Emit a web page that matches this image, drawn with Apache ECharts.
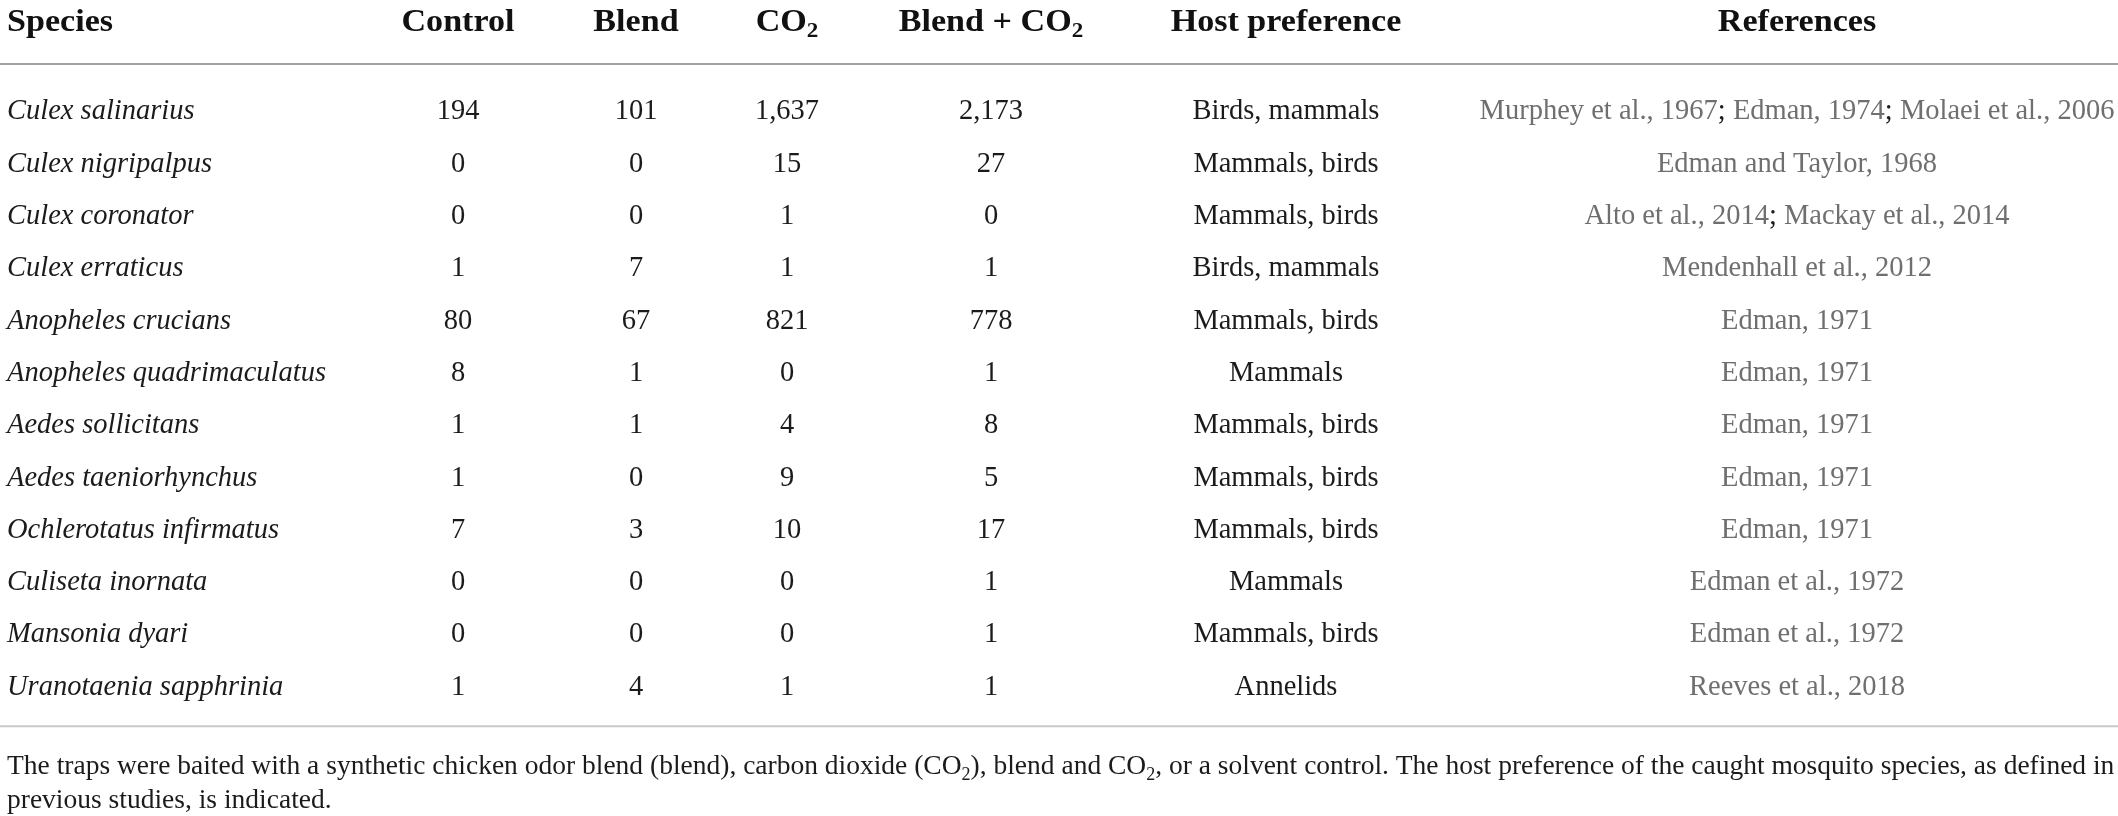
<!DOCTYPE html>
<html>
<head>
<meta charset="utf-8">
<title>Mosquito species caught per trap bait</title>
<script src="https://cdn.jsdelivr.net/npm/echarts@6.0.0/dist/echarts.min.js"></script>
<style>
  html, body { margin: 0; padding: 0; background: #fff; }
  #main { width: 2118px; height: 816px; }
</style>
</head>
<body>
<div id="main"></div>
<script>
// table data
var species = ['Culex salinarius', 'Culex nigripalpus', 'Culex coronator', 'Culex erraticus',
  'Anopheles crucians', 'Anopheles quadrimaculatus', 'Aedes sollicitans', 'Aedes taeniorhynchus',
  'Ochlerotatus infirmatus', 'Culiseta inornata', 'Mansonia dyari', 'Uranotaenia sapphrinia'];
var control = [194, 0, 0, 1, 80, 8, 1, 1, 7, 0, 0, 1];
var blend = [101, 0, 0, 7, 67, 1, 1, 0, 3, 0, 0, 4];
var co2 = [1637, 15, 1, 1, 821, 0, 4, 9, 10, 0, 0, 1];
var blendCo2 = [2173, 27, 0, 1, 778, 1, 8, 5, 17, 1, 1, 1];
var hostPreference = ['Birds, mammals', 'Mammals, birds', 'Mammals, birds', 'Birds, mammals',
  'Mammals, birds', 'Mammals', 'Mammals, birds', 'Mammals, birds', 'Mammals, birds', 'Mammals',
  'Mammals, birds', 'Annelids'];
var references = ['Murphey et al., 1967; Edman, 1974; Molaei et al., 2006', 'Edman and Taylor, 1968',
  'Alto et al., 2014; Mackay et al., 2014', 'Mendenhall et al., 2012', 'Edman, 1971', 'Edman, 1971',
  'Edman, 1971', 'Edman, 1971', 'Edman, 1971', 'Edman et al., 1972', 'Edman et al., 1972',
  'Reeves et al., 2018'];
var headers = ['Species', 'Control', 'Blend', 'CO{sub|2}', 'Blend + CO{sub|2}', 'Host preference', 'References'];
var footnote = 'The traps were baited with a synthetic chicken odor blend (blend), carbon dioxide (CO{sub|2}), blend and CO{sub|2}, or a solvent control. The host preference of the caught mosquito species, as defined in\nprevious studies, is indicated.';

// layout
var colX = [7, 458, 636, 787, 991, 1286, 1797];
var colAlign = ['left', 'center', 'center', 'center', 'center', 'center', 'center'];
var FONT = '"Liberation Serif", "Times New Roman", serif';
var HEADER_GAP = 89;   // header centre above first row
var TOP_RULE = 48;     // rule above first row
var BOTTOM_RULE = 39;  // rule below last row

var numCols = [control, blend, co2, blendCo2];

function cellText(c, i) {
  if (c === 0) return species[i];
  if (c <= 4) return numCols[c - 1][i].toLocaleString('en-US');
  if (c === 5) return hostPreference[i];
  return references[i].split(';').map(function (s) { return '{g|' + s + '}'; }).join('{k|;}');
}

var cells = [];
species.forEach(function (s, i) {
  for (var c = 0; c < colX.length; c++) cells.push([colX[c], i, c]);
});
var headerData = headers.map(function (h, c) { return [colX[c], 0, c]; });

var chart = echarts.init(document.getElementById('main'));
chart.setOption({
  animation: false,
  backgroundColor: '#fff',
  grid: { left: 0, right: 0, top: 85.85, bottom: 102.55 },
  xAxis: { type: 'value', min: 0, max: 2118, show: false },
  yAxis: { type: 'category', data: species, inverse: true, show: false },
  graphic: [{
    type: 'text', left: 7, top: 750, silent: true,
    style: {
      text: footnote, fontFamily: FONT, fontSize: 27.5, lineHeight: 34, fill: '#1b1b1b',
      rich: { sub: { fontFamily: FONT, fontSize: 18, lineHeight: 18, verticalAlign: 'bottom', fill: '#1b1b1b' } }
    }
  }],
  series: [{
    type: 'custom',
    silent: true,
    data: cells,
    renderItem: function (params, api) {
      var c = api.value(2), i = api.value(1);
      var pt = api.coord([api.value(0), i]);
      var isRef = c === 6;
      return {
        type: 'text', x: pt[0], y: pt[1],
        style: {
          text: cellText(c, i), x: 0, y: 0,
          align: colAlign[c], verticalAlign: 'middle',
          fontFamily: FONT, fontSize: 28.5, fontStyle: c === 0 ? 'italic' : 'normal',
          fill: isRef ? '#6f6f6f' : '#1b1b1b',
          rich: {
            g: { fontFamily: FONT, fontSize: 28.5, fill: '#6f6f6f' },
            k: { fontFamily: FONT, fontSize: 28.5, fill: '#1b1b1b' }
          }
        }
      };
    }
  }, {
    type: 'custom',
    silent: true,
    data: headerData,
    renderItem: function (params, api) {
      var c = api.value(2);
      var first = api.coord([0, 0]);
      var last = api.coord([0, species.length - 1]);
      var pt = api.coord([api.value(0), 0]);
      var children = [{
        type: 'text', x: pt[0], y: pt[1] - HEADER_GAP, scaleX: 1.1,
        style: {
          text: headers[c], x: 0, y: 0, align: colAlign[c], verticalAlign: 'middle',
          fontFamily: FONT, fontSize: 31, fontWeight: 'bold', lineHeight: 39, fill: '#111',
          rich: { sub: { fontFamily: FONT, fontSize: 21, fontWeight: 'bold', lineHeight: 21, verticalAlign: 'bottom', fill: '#111' } }
        }
      }];
      if (c === 0) {
        children.push({
          type: 'line',
          shape: { x1: 0, y1: first[1] - TOP_RULE, x2: api.getWidth(), y2: first[1] - TOP_RULE },
          style: { stroke: '#a3a3a3', lineWidth: 2 }
        }, {
          type: 'line',
          shape: { x1: 0, y1: last[1] + BOTTOM_RULE, x2: api.getWidth(), y2: last[1] + BOTTOM_RULE },
          style: { stroke: '#c8c8c8', lineWidth: 2 }
        });
      }
      return { type: 'group', children: children };
    }
  }]
});
</script>
</body>
</html>
